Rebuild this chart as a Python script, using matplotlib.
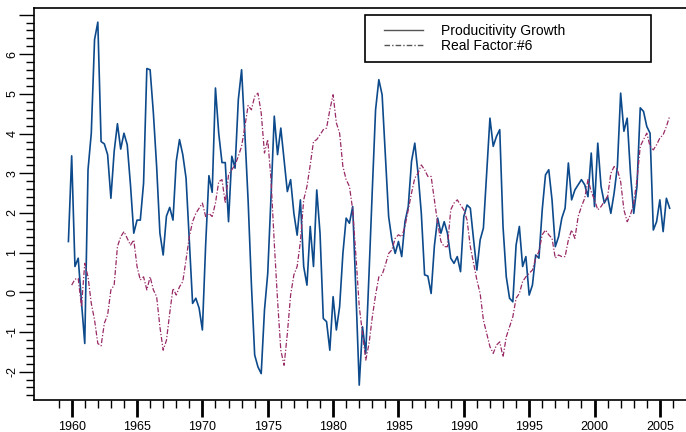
import matplotlib
matplotlib.use("Agg")
import matplotlib.pyplot as plt
import matplotlib.patches as mpatches
from matplotlib.lines import Line2D
import numpy as np

plt.rcParams['font.family'] = ['Liberation Sans', 'DejaVu Sans']

# Quarterly series, first productivity obs at 1959Q4, factor starts one quarter later
StartYear = 1959.75
Productivity = [1.28, 3.44, 0.65, 0.86, -0.25, -1.29, 3.09, 4.01, 6.37, 6.81,
                3.80, 3.74, 3.47, 2.37, 3.55, 4.25, 3.61, 4.01, 3.72, 2.70,
                1.49, 1.82, 1.82, 2.75, 5.64, 5.61, 4.52, 3.17, 1.49, 0.94,
                1.92, 2.14, 1.82, 3.30, 3.85, 3.47, 2.88, 1.32, -0.28, -0.15,
                -0.40, -0.95, 1.20, 2.94, 2.52, 5.15, 4.01, 3.27, 3.27, 1.78,
                3.43, 3.13, 4.86, 5.61, 4.01, 2.30, 0.20, -1.58, -1.88, -2.05,
                -0.45, 0.48, 2.41, 4.44, 3.47, 4.14, 3.34, 2.54, 2.84, 1.99,
                1.44, 2.33, 0.65, 0.18, 1.66, 0.65, 2.58, 1.49, -0.66, -0.74,
                -1.46, -0.11, -0.95, -0.36, 0.98, 1.87, 1.74, 2.16, -0.03, -2.34,
                -0.87, -1.54, 0.48, 2.58, 4.60, 5.36, 4.98, 3.43, 1.91, 1.32,
                0.98, 1.28, 0.90, 1.78, 2.16, 3.30, 3.76, 3.00, 1.99, 0.44,
                0.41, -0.03, 1.17, 1.87, 1.49, 1.78, 1.49, 0.86, 0.73, 0.90,
                0.52, 1.91, 2.20, 2.12, 1.32, 0.56, 1.32, 1.62, 3.00, 4.39,
                3.68, 3.93, 4.10, 1.66, 0.39, -0.15, -0.24, 1.19, 1.66, 0.65,
                0.90, -0.07, 0.18, 0.94, 0.86, 2.08, 2.96, 3.09, 2.33, 1.15,
                1.40, 1.87, 2.12, 3.26, 2.33, 2.58, 2.71, 2.84, 2.71, 2.41,
                3.51, 2.16, 3.76, 2.67, 2.25, 2.41, 1.99, 2.50, 3.17, 5.02,
                4.06, 4.39, 3.00, 1.99, 2.67, 4.65, 4.56, 4.18, 4.01, 1.57,
                1.78, 2.33, 1.53, 2.37, 2.12]

RealFactor = [0.18, 0.33, 0.35, -0.36, 0.73, 0.39, -0.28, -0.70, -1.29, -1.35,
              -0.78, -0.57, 0.06, 0.18, 1.15, 1.40, 1.53, 1.36, 1.19, 1.32,
              0.65, 0.31, 0.39, 0.06, 0.39, 0.06, -0.11, -0.87, -1.46, -1.21,
              -0.53, 0.10, -0.07, 0.14, 0.27, 0.82, 1.40, 1.78, 1.99, 2.12,
              2.25, 1.91, 1.99, 1.91, 2.25, 2.79, 2.84, 2.25, 2.96, 3.09,
              3.21, 3.43, 3.68, 4.18, 4.71, 4.60, 4.94, 5.02, 4.52, 3.51,
              3.85, 2.84, 1.24, -0.20, -1.46, -1.84, -1.04, -0.07, 0.44, 0.65,
              1.28, 2.33, 2.67, 3.21, 3.80, 3.85, 3.97, 4.10, 4.14, 4.60,
              4.98, 4.27, 4.01, 3.17, 2.84, 2.67, 2.08, 0.90, -0.36, -1.04,
              -1.71, -1.29, -0.62, -0.07, 0.39, 0.44, 0.69, 0.98, 1.07, 1.36,
              1.45, 1.40, 1.66, 2.08, 2.50, 2.88, 3.00, 3.21, 3.09, 2.92,
              2.92, 2.33, 1.74, 1.28, 1.15, 1.15, 2.08, 2.25, 2.33, 2.20,
              2.08, 1.82, 1.15, 0.73, 0.31, -0.03, -0.70, -1.04, -1.37, -1.54,
              -1.33, -1.25, -1.63, -1.12, -0.87, -0.62, -0.15, -0.03, 0.27, 0.39,
              0.48, 0.56, 0.86, 1.03, 1.45, 1.57, 1.45, 1.36, 0.86, 0.94,
              0.90, 0.90, 1.32, 1.57, 1.36, 1.91, 2.16, 2.37, 2.84, 2.54,
              2.33, 2.08, 2.16, 2.29, 2.41, 3.00, 3.17, 3.09, 2.79, 2.08,
              1.78, 1.95, 2.25, 2.84, 3.68, 3.85, 4.01, 3.68, 3.59, 3.72,
              3.89, 3.97, 4.18, 4.44]

SeriesNames = ["Producitivity Growth", "Real Factor:#6"]
YearTicks = list(range(1960, 2006, 5))
YTicks = list(range(-2, 8))
YTickLabels = [str(v) for v in range(-2, 7)] + [""]

ProdYears = StartYear + 0.25 * np.arange(len(Productivity))
FactorYears = StartYear + 0.25 + 0.25 * np.arange(len(RealFactor))

BlueColour = '#0d4a8c'
RedColour = '#982a66'
DashDot = (0, (4, 1.5, 1, 1.5))

##################################### Plot #####################################
figure = plt.figure(figsize=(6.86, 4.32), dpi=100)
axes = figure.add_axes([0.050, 0.0741, 0.950, 0.9074])

axes.plot(ProdYears, Productivity, color=BlueColour, linewidth=1.2)
axes.plot(FactorYears, RealFactor, color=RedColour, linewidth=0.9, linestyle=DashDot)

axes.set_xlim(1957.14, 2007.0)
axes.set_ylim(-2.715, 7.167)

# spines - right one sits off the picture
axes.spines['right'].set_visible(False)
for side in ['left', 'bottom', 'top']:
    axes.spines[side].set_linewidth(1.2)

# x ticks: bold majors every 5 years, minor every year
axes.set_xticks(YearTicks)
axes.set_xticks(list(range(1959, 2007)), minor=True)
axes.tick_params(axis='x', which='major', direction='out', length=12, width=2, labelsize=9, pad=3)
axes.tick_params(axis='x', which='minor', direction='out', length=6, width=1)

# y ticks: integers plus 0.2 minors, labels rotated
axes.set_yticks(YTicks)
axes.set_yticklabels(YTickLabels, rotation=90, va='center')
axes.set_yticks(np.arange(-2.6, 7.01, 0.2), minor=True)
axes.tick_params(axis='y', which='major', direction='out', length=11, width=1, labelsize=9, pad=0.5)
axes.tick_params(axis='y', which='minor', direction='out', length=5.5, width=1)

# legend: box drawn separately so it can be wider than the text
frame = mpatches.Rectangle((365 / 686, 1 - 62 / 432), (651 - 365) / 686, (62 - 15) / 432,
                           transform=figure.transFigure, fill=True, facecolor='white',
                           edgecolor='black', linewidth=1.2, zorder=5)
figure.patches.append(frame)
handles = [Line2D([], [], color='#555555', linewidth=1.0),
           Line2D([], [], color='#555555', linewidth=1.0, linestyle=DashDot)]
legend = figure.legend(handles, SeriesNames, loc='upper left', bbox_to_anchor=(384 / 686, 1 - 24 / 432),
                       frameon=False, fontsize=10, handlelength=2.8, handletextpad=1.3,
                       labelspacing=0.05, borderpad=0, borderaxespad=0)
legend.set_zorder(6)

figure.savefig('out.png', dpi=100)
